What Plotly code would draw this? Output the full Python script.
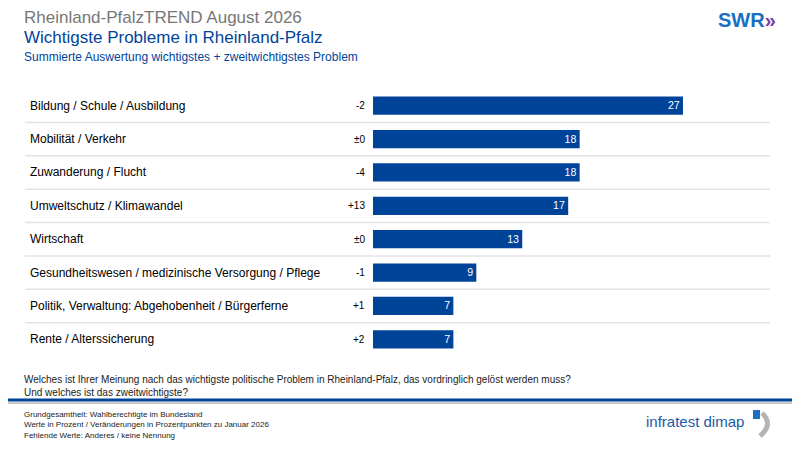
import plotly.graph_objects as go

# === Data ===
categories = ["Bildung / Schule / Ausbildung", "Mobilität / Verkehr", "Zuwanderung / Flucht",
              "Umweltschutz / Klimawandel", "Wirtschaft",
              "Gesundheitswesen / medizinische Versorgung / Pflege",
              "Politik, Verwaltung: Abgehobenheit / Bürgerferne", "Rente / Alterssicherung"]
values = [27, 18, 18, 17, 13, 9, 7, 7]
changes = ["-2", "±0", "-4", "+13", "±0", "-1", "+1", "+2"]

# === Layout geometry (pixels, page body has an 8px margin) ===
W, H = 800, 450
off = 8
left, right, top, bottom = 373 - off, 30 + off, 89 - off, 94 + off
plot_w = W - left - right
plot_h = H - top - bottom
def px(x):
    return (x - off - left) / plot_w  # screen pixel -> paper x
def py(y):
    return 1 - (y - off - top) / plot_h  # screen pixel -> paper y

ypos = list(range(len(categories)))

fig = go.Figure()
fig.add_trace(go.Bar(x=values, y=ypos, orientation="h", marker=dict(color="#00449a", line=dict(width=0)),
                     width=0.55, text=values, textposition="inside", insidetextanchor="end", textangle=0,
                     textfont=dict(color="white", size=12, family="Liberation Sans"), hoverinfo="skip"))

# Category labels and changes
for i, (cat, ch) in enumerate(zip(categories, changes)):
    fig.add_annotation(text=cat, x=px(28), y=i, xref="paper", yref="y", xanchor="left",
                       showarrow=False, font=dict(size=12, color="black"))
    fig.add_annotation(text=ch, x=px(367), y=i, xref="paper", yref="y", xanchor="right",
                       showarrow=False, font=dict(size=10, color="black"))

# Row separators
for i in range(len(categories) - 1):
    fig.add_shape(type="line", xref="paper", yref="y", x0=px(25), x1=px(770), y0=i + 0.5, y1=i + 0.5,
                  line=dict(color="#e3e3e3", width=1.5))

# Footer separator
fig.add_shape(type="line", xref="paper", yref="paper", x0=px(0), x1=px(800), y0=py(400), y1=py(400),
              line=dict(color="#00449a", width=3))
fig.add_shape(type="line", xref="paper", yref="paper", x0=px(0), x1=px(800), y0=py(403), y1=py(403),
              line=dict(color="#c8c8c8", width=2))

# Titles
fig.add_annotation(text="Rheinland-PfalzTREND August 2026", x=px(22), y=py(17), xref="paper", yref="paper",
                   xanchor="left", yanchor="middle", showarrow=False, font=dict(size=17, color="#777777"))
fig.add_annotation(text="Wichtigste Probleme in Rheinland-Pfalz", x=px(22), y=py(38), xref="paper", yref="paper",
                   xanchor="left", yanchor="middle", showarrow=False, font=dict(size=17, color="#00449a"))
fig.add_annotation(text="Summierte Auswertung wichtigstes + zweitwichtigstes Problem", x=px(22), y=py(57),
                   xref="paper", yref="paper", xanchor="left", yanchor="middle", showarrow=False,
                   font=dict(size=12, color="#00449a"))
fig.add_annotation(text="<b>SWR</b><b style='color:#7b3fa0'>»</b>", x=px(778), y=py(20), xref="paper", yref="paper",
                   xanchor="right", yanchor="middle", showarrow=False, font=dict(size=20, color="#1a6fc4"))

# Question and footnotes
fig.add_annotation(text="Welches ist Ihrer Meinung nach das wichtigste politische Problem in Rheinland-Pfalz, "
                        "das vordringlich gelöst werden muss?<br>Und welches ist das zweitwichtigste?",
                   x=px(22), y=py(386), xref="paper", yref="paper", xanchor="left", yanchor="middle", align="left",
                   showarrow=False, font=dict(size=10, color="#222222"))
fig.add_annotation(text="Grundgesamtheit: Wahlberechtigte im Bundesland<br>Werte in Prozent / Veränderungen in "
                        "Prozentpunkten zu Januar 2026<br>Fehlende Werte: Anderes / keine Nennung",
                   x=px(22), y=py(425), xref="paper", yref="paper", xanchor="left", yanchor="middle", align="left",
                   showarrow=False, font=dict(size=8, color="#222222"))
fig.add_annotation(text="infratest dimap", x=px(746), y=py(421), xref="paper", yref="paper", xanchor="right",
                   yanchor="middle", showarrow=False, font=dict(size=15, color="#1a5aa8"))
fig.add_shape(type="rect", xref="paper", yref="paper", x0=px(753), x1=px(760), y0=py(410), y1=py(419),
              line=dict(width=0), fillcolor="#1a6fc4")
fig.add_shape(type="path", xref="paper", yref="paper",
              path="M %f %f Q %f %f %f %f" % (px(762), py(413), px(774), py(424), px(760), py(436)),
              line=dict(color="#b4b4b4", width=5))

fig.update_layout(width=W, height=H, margin=dict(l=left, r=right, t=top, b=bottom),
                  plot_bgcolor="white", paper_bgcolor="white", showlegend=False,
                  font=dict(family="Liberation Sans"), bargap=0.4,
                  xaxis=dict(range=[0, plot_w / (310 / 27)], visible=False),
                  yaxis=dict(range=[7.5, -0.5], visible=False))

fig.write_html("out.html")
